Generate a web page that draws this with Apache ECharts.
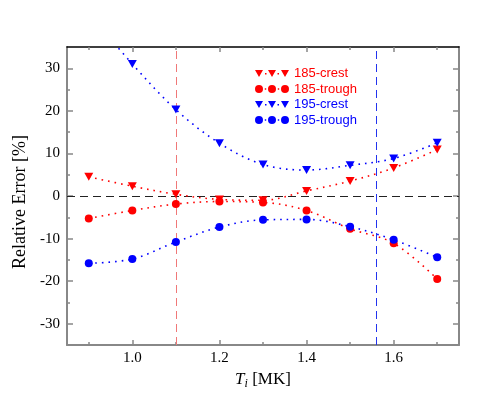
<!DOCTYPE html>
<html>
<head>
<meta charset="utf-8">
<script src="https://cdn.jsdelivr.net/npm/echarts@6/dist/echarts.min.js"></script>
<style>
  html, body { margin: 0; padding: 0; background: #fff; }
  #c1 { width: 498px; height: 399px; }
</style>
</head>
<body>
<div id="c1"></div>
<script>
// temperature points
const ti = [0.9, 1.0, 1.1, 1.2, 1.3, 1.4, 1.5, 1.6, 1.7]
// relative error [%]
const crest185 = [4.5, 2.3, 0.4, -0.8, -1.0, 1.2, 3.5, 6.6, 10.9]
const trough185 = [-5.3, -3.4, -1.9, -1.3, -1.5, -3.4, -7.7, -11.1, -19.5]
const crest195 = [43, 31.0, 20.3, 12.4, 7.4, 6.1, 7.2, 8.8, 12.5]
const trough195 = [-15.8, -14.8, -10.8, -7.3, -5.6, -5.5, -7.2, -10.3, -14.4]

const xMajor = [1.0, 1.2, 1.4, 1.6]
const xMinor = [0.9, 1.1, 1.3, 1.5, 1.7]
const yMajor = [-30, -20, -10, 0, 10, 20, 30]
const yMinor = [-25, -15, -5, 5, 15, 25]
const vLines = [1.1, 1.56]

const RED = '#ff0000'
const BLUE = '#0000ff'
const GRAY = '#888888'
const serif = 'Liberation Serif'

const triIcon = 'path://M0,0L8,0L4,7Z M13,0L21,0L17,7Z M26,0L34,0L30,7Z M10,3L11.5,3L11.5,4.5L10,4.5Z M22.5,3L24,3L24,4.5L22.5,4.5Z'
const dotIcon = 'path://M0,4a4,4 0 1,0 8,0a4,4 0 1,0 -8,0Z M13,4a4,4 0 1,0 8,0a4,4 0 1,0 -8,0Z M26,4a4,4 0 1,0 8,0a4,4 0 1,0 -8,0Z M9.8,3.3L11.2,3.3L11.2,4.7L9.8,4.7Z M22.8,3.3L24.2,3.3L24.2,4.7L22.8,4.7Z'

const pairs = (ys) => ti.map((x, i) => [x, ys[i]])

const xAxisBase = (pos, major, showLine) => ({
  type: 'value', position: pos, min: 0.85, max: 1.75,
  axisLine: { show: showLine, onZero: false, lineStyle: { color: pos === 'top' ? '#000' : GRAY, width: pos === 'top' ? 1.5 : 2 } },
  axisTick: { show: true, inside: true, length: major ? 5 : 3, customValues: major ? xMajor : xMinor, lineStyle: { color: GRAY, width: 1.5 } },
  axisLabel: { show: major && pos === 'bottom', customValues: xMajor, formatter: v => v.toFixed(1), fontFamily: serif, fontSize: 15, color: '#000', margin: 6 },
  splitLine: { show: false }
})

const yAxisBase = (pos, major, showLine) => ({
  type: 'value', position: pos, min: -35, max: 35,
  axisLine: { show: showLine, onZero: false, lineStyle: { color: GRAY, width: 2 } },
  axisTick: { show: true, inside: true, length: major ? 6 : 3, customValues: major ? yMajor : yMinor, lineStyle: { color: GRAY, width: 1.5 } },
  axisLabel: { show: major && pos === 'left', customValues: yMajor, fontFamily: serif, fontSize: 15, color: '#000', margin: 7 },
  splitLine: { show: false }
})

const makeSeries = (name, ys, color, symbol) => ({
  name,
  type: 'line',
  data: pairs(ys),
  smooth: 0.35,
  symbol,
  symbolSize: symbol === 'triangle' ? [9, 8] : 8,
  symbolRotate: symbol === 'triangle' ? 180 : 0,
  itemStyle: { color },
  lineStyle: { color, width: 1.6, type: [1.6, 5] },
  z: 3
})

const chart = echarts.init(document.getElementById('c1'), null, { renderer: 'canvas' })
const xA = [xAxisBase('bottom', true, true), xAxisBase('bottom', false, false), xAxisBase('top', true, true), xAxisBase('top', false, false)]
xA[0].name = '{a|T}{b|i}{c| [MK]}'
xA[0].nameLocation = 'middle'
xA[0].nameGap = 19
xA[0].nameTextStyle = {
  rich: {
    a: { fontFamily: serif, fontStyle: 'italic', fontSize: 17, color: '#000' },
    b: { fontFamily: serif, fontStyle: 'italic', fontSize: 12, color: '#000', padding: [9, 0, 0, 0] },
    c: { fontFamily: serif, fontSize: 17, color: '#000' }
  }
}
const yA = [yAxisBase('left', true, true), yAxisBase('left', false, false), yAxisBase('right', true, true), yAxisBase('right', false, false)]
yA[0].name = 'Relative Error [%]'
yA[0].nameLocation = 'middle'
yA[0].nameGap = 35
yA[0].nameTextStyle = { fontFamily: serif, fontSize: 18, color: '#000', padding: [0, 12, 0, 0] }

const option = {
  animation: false,
  backgroundColor: '#fff',
  grid: { left: 67, right: 39, top: 47, bottom: 54 },
  xAxis: xA,
  yAxis: yA,
  legend: {
    orient: 'vertical',
    left: 250,
    top: 62,
    itemWidth: 34,
    itemHeight: 8,
    itemGap: 2.5,
    textStyle: { fontFamily: 'Liberation Sans', fontSize: 13 },
    data: [
      { name: '185-crest', icon: triIcon, textStyle: { color: RED } },
      { name: '185-trough', icon: dotIcon, textStyle: { color: RED } },
      { name: '195-crest', icon: triIcon, textStyle: { color: BLUE } },
      { name: '195-trough', icon: dotIcon, textStyle: { color: BLUE } }
    ]
  },
  series: [
    makeSeries('185-crest', crest185, RED, 'triangle'),
    makeSeries('185-trough', trough185, RED, 'circle'),
    makeSeries('195-crest', crest195, BLUE, 'triangle'),
    makeSeries('195-trough', trough195, BLUE, 'circle'),
    {
      type: 'line',
      data: [],
      markLine: {
        silent: true,
        symbol: 'none',
        label: { show: false },
        z: 1,
        data: [
          { xAxis: vLines[0], lineStyle: { color: '#f07878', type: [8, 5], width: 1 } },
          { xAxis: vLines[1], lineStyle: { color: '#2233ee', type: [8, 5], width: 1 } },
          { yAxis: 0, lineStyle: { color: '#222', type: [8, 5], width: 1.2 } }
        ]
      }
    }
  ]
}
option && chart.setOption(option)
</script>
</body>
</html>
